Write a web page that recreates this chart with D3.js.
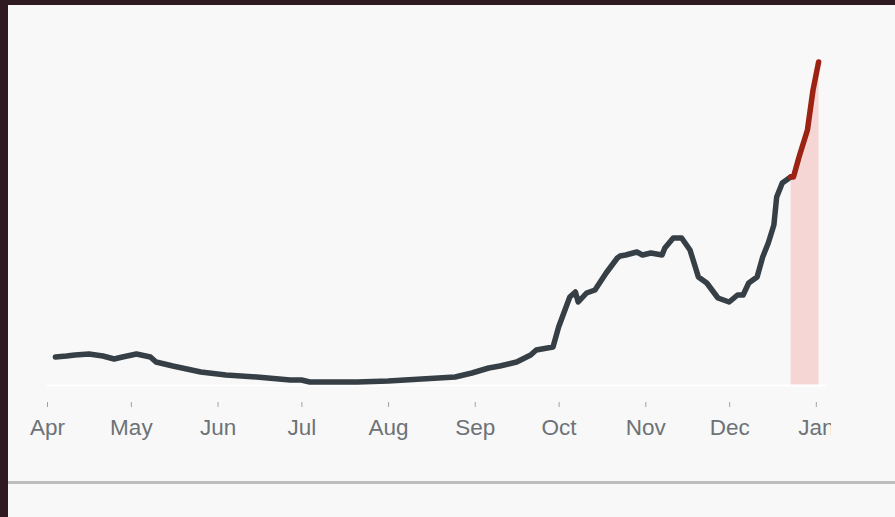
<!DOCTYPE html>
<html>
<head>
<meta charset="utf-8">
<script src="https://cdn.jsdelivr.net/npm/d3@7"></script>
<style>
  html, body { margin: 0; padding: 0; background: #301a22; }
  svg { display: block; }
</style>
</head>
<body>
<svg id="chart" width="895" height="517"></svg>
<script>
// ---- data ----
const actualDates = ["2020-04-04","2020-04-08","2020-04-11","2020-04-16","2020-04-21","2020-04-25","2020-04-28",
  "2020-05-03","2020-05-08","2020-05-10","2020-05-16","2020-05-26","2020-06-04","2020-06-15","2020-06-27",
  "2020-07-01","2020-07-04","2020-07-21","2020-08-01","2020-08-13","2020-08-25","2020-08-31","2020-09-06",
  "2020-09-10","2020-09-16","2020-09-21","2020-09-23","2020-09-25","2020-09-29","2020-10-01","2020-10-05",
  "2020-10-07","2020-10-08","2020-10-11","2020-10-14","2020-10-18","2020-10-22","2020-10-23","2020-10-25",
  "2020-10-29","2020-10-31","2020-11-03","2020-11-07","2020-11-08","2020-11-11","2020-11-14","2020-11-17",
  "2020-11-20","2020-11-23","2020-11-27","2020-12-01","2020-12-04","2020-12-06","2020-12-08","2020-12-11",
  "2020-12-13","2020-12-15","2020-12-17","2020-12-18","2020-12-20","2020-12-23"];
const actualValues = [28,29,30,31,29,26,28,
  31,28,23,19,13,10,8,5,
  5,3,3,4,6,8,12,17,
  19,23,30,35,36,38,58,88,
  93,83,92,95,112,127,129,130,
  133,130,132,130,137,147,147,135,
  108,102,87,83,90,90,102,108,
  128,142,160,188,202,208];
const forecastDates = ["2020-12-23","2020-12-24","2020-12-26","2020-12-29","2020-12-31","2021-01-02"];
const forecastValues = [208,208,228,255,295,323];
const tickDates = ["2020-04-01","2020-05-01","2020-06-01","2020-07-01","2020-08-01","2020-09-01",
  "2020-10-01","2020-11-01","2020-12-01","2021-01-01"];
const tickLabels = ["Apr","May","Jun","Jul","Aug","Sep","Oct","Nov","Dec","Jan"];

// ---- build ----
const parse = d3.timeParse("%Y-%m-%d");
const actual = actualDates.map((d, i) => ({ date: parse(d), value: actualValues[i] }));
const forecast = forecastDates.map((d, i) => ({ date: parse(d), value: forecastValues[i] }));
const ticks = tickDates.map(parse);

const svg = d3.select("#chart");
const W = 895, H = 517;

// clip for the chart area (right edge cuts the last label)
svg.append("defs").append("clipPath").attr("id", "plotClip")
  .append("rect").attr("x", 0).attr("y", 0).attr("width", 831).attr("height", H);

// page background and frame
svg.append("rect").attr("x", 8).attr("y", 5).attr("width", W - 8).attr("height", H - 5).attr("fill", "#f8f8f8");

const x = d3.scaleTime()
  .domain([parse("2020-04-01"), parse("2021-01-05")])
  .range([47, 827]);
const y = d3.scaleLinear().domain([0, 330]).range([385, 55]);

const plot = svg.append("g").attr("clip-path", "url(#plotClip)");

// forecast shaded area
plot.append("path")
  .datum(forecast)
  .attr("fill", "#f6d6d4")
  .attr("d", d3.area().x(d => x(d.date)).y0(y(0)).y1(d => y(d.value)));

// baseline
plot.append("line")
  .attr("x1", x.range()[0]).attr("x2", x.range()[1])
  .attr("y1", y(0) + 0.5).attr("y2", y(0) + 0.5)
  .attr("stroke", "#ffffff").attr("stroke-width", 2);

// x axis
const axis = d3.axisBottom(x)
  .tickValues(ticks)
  .tickFormat((d, i) => tickLabels[i])
  .tickSize(5)
  .tickPadding(12);
const gx = plot.append("g").attr("transform", "translate(0,402)").call(axis);
gx.select(".domain").remove();
gx.selectAll(".tick line").attr("stroke", "#a0a3a6").attr("stroke-width", 1);
gx.selectAll(".tick text")
  .attr("fill", "#6c7277")
  .style("font-family", "'Liberation Sans', Arial, Helvetica, sans-serif")
  .style("font-size", "22.5px");

// actual line
const line = d3.line().x(d => x(d.date)).y(d => y(d.value)).curve(d3.curveLinear);
plot.append("path")
  .datum(actual)
  .attr("fill", "none")
  .attr("stroke", "#363f45")
  .attr("stroke-width", 5.5)
  .attr("stroke-linejoin", "round")
  .attr("stroke-linecap", "round")
  .attr("d", line);

// forecast line
plot.append("path")
  .datum(forecast)
  .attr("fill", "none")
  .attr("stroke", "#9c2314")
  .attr("stroke-width", 5.5)
  .attr("stroke-linejoin", "round")
  .attr("stroke-linecap", "round")
  .attr("d", line);

// bottom rule
svg.append("line")
  .attr("x1", 8).attr("x2", W)
  .attr("y1", 482.5).attr("y2", 482.5)
  .attr("stroke", "#bcbdbe").attr("stroke-width", 3);
</script>
</body>
</html>
